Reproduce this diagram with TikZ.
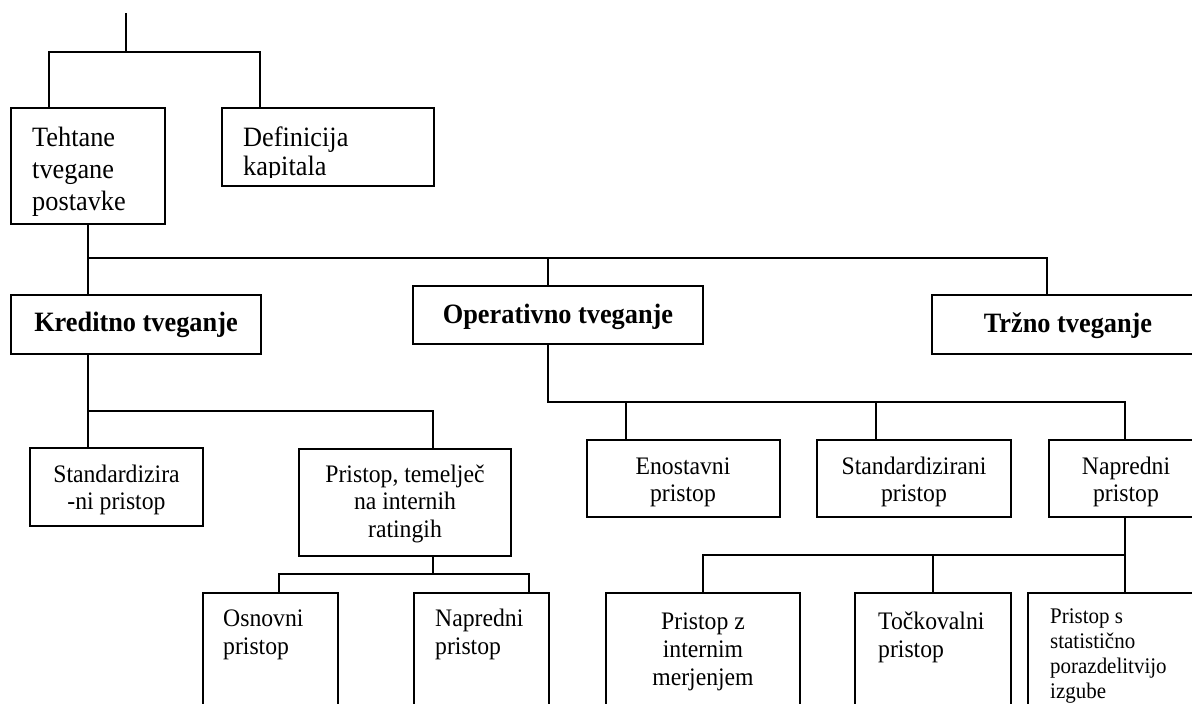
\documentclass[tikz,border=0pt]{standalone}
\usepackage{fontspec}
\setmainfont{Liberation Serif}[FakeStretch=0.94]
\begin{document}
\begin{tikzpicture}[x=1pt,y=-1pt,
  box/.style={draw, line width=2.5pt, inner sep=0pt, outer sep=0pt, anchor=north west},
  conn/.style={line width=1.8pt},
  ftop/.style={font=\fontsize{28}{32}\selectfont},
  fdef/.style={font=\fontsize{28}{29}\selectfont},
  fbold/.style={font=\fontsize{28}{30}\selectfont\bfseries},
  fmid/.style={font=\fontsize{25.2}{27.5}\selectfont},
  flow/.style={font=\fontsize{25.2}{28}\selectfont},
  fsmall/.style={font=\fontsize{22.3}{25}\selectfont},
  txt/.style={inner sep=0pt}]
\useasboundingbox (0,0) rectangle (1192,704);
\clip (0,0) rectangle (1192,704);
% boxes
\node[box, minimum width=154pt, minimum height=116pt] (tehtane) at (11,108) {};
\node[box, minimum width=212pt, minimum height=78pt] (definicija) at (222,108) {};
\node[box, minimum width=250pt, minimum height=59pt] (kreditno) at (11,295) {};
\node[box, minimum width=290pt, minimum height=58pt] (operativno) at (413,286) {};
\node[box, minimum width=272pt, minimum height=59pt] (trzno) at (932,295) {};
\node[box, minimum width=173pt, minimum height=78pt] (stdA) at (30,448) {};
\node[box, minimum width=212pt, minimum height=107pt] (irb) at (299,449) {};
\node[box, minimum width=135pt, minimum height=140pt] (osnovni) at (203,593) {};
\node[box, minimum width=135pt, minimum height=140pt] (napA) at (414,593) {};
\node[box, minimum width=193pt, minimum height=77pt] (enost) at (587,440) {};
\node[box, minimum width=194pt, minimum height=77pt] (stdB) at (817,440) {};
\node[box, minimum width=154pt, minimum height=77pt] (napB) at (1049,440) {};
\node[box, minimum width=194pt, minimum height=140pt] (pz) at (606,593) {};
\node[box, minimum width=156pt, minimum height=140pt] (tock) at (855,593) {};
\node[box, minimum width=180pt, minimum height=140pt] (ps) at (1028,593) {};
% texts (anchor base = baseline of the last line)
\node[txt, ftop, anchor=base west, align=left] (tehtaneT) at (32,210) {Tehtane\\tvegane\\postavke};
\begin{scope}
\clip (222,108) rectangle (434,177);
\node[txt, fdef, anchor=base west, align=left] (definicijaT) at (243,175) {Definicija\\kapitala};
\end{scope}
\node[txt, fbold, anchor=base] (kreditnoT) at (136,331) {Kreditno tveganje};
\node[txt, fbold, anchor=base] (operativnoT) at (558,323) {Operativno tveganje};
\node[txt, fbold, anchor=base] (trznoT) at (1068,332) {Tržno tveganje};
\node[txt, fmid, anchor=base, align=center] (stdAT) at (116.5,509.5) {Standardizira\\-ni pristop};
\node[txt, fmid, anchor=base, align=center] (irbT) at (405,537) {Pristop, temelječ\\na internih\\ratingih};
\node[txt, flow, anchor=base west, align=left] (osnovniT) at (223,654) {Osnovni\\pristop};
\node[txt, flow, anchor=base west, align=left] (napAT) at (435,654) {Napredni\\pristop};
\node[txt, fmid, anchor=base, align=center] (enostT) at (683,501.5) {Enostavni\\pristop};
\node[txt, fmid, anchor=base, align=center] (stdBT) at (914,501.5) {Standardizirani\\pristop};
\node[txt, fmid, anchor=base, align=center] (napBT) at (1126,501.5) {Napredni\\pristop};
\node[txt, flow, anchor=base, align=center] (pzT) at (703,685) {Pristop z\\internim\\merjenjem};
\node[txt, flow, anchor=base west, align=left] (tockT) at (878,657) {Točkovalni\\pristop};
\node[txt, fsmall, anchor=base west, align=left] (psT) at (1050,698) {Pristop s\\statistično\\porazdelitvijo\\izgube};
% junction coordinates
\coordinate (root) at (126,13);
\coordinate (j0) at (126,52);
\coordinate (a1) at (49,52);
\coordinate (a2) at (260,52);
\coordinate (b1) at (88,258);
\coordinate (b2) at (548,258);
\coordinate (b3) at (1047,258);
\coordinate (c1) at (88,411);
\coordinate (c2) at (433,411);
\coordinate (d0) at (433,574);
\coordinate (d1) at (279,574);
\coordinate (d2) at (529,574);
\coordinate (e0) at (548,402);
\coordinate (e1) at (626,402);
\coordinate (e2) at (876,402);
\coordinate (e3) at (1125,402);
\coordinate (f0) at (1125,555);
\coordinate (f1) at (703,555);
\coordinate (f2) at (933,555);
% connectors
\draw[conn] (root) -- (j0);
\draw[conn] (a1 |- tehtane.north) -- (a1) -- (a2) -- (a2 |- definicija.north);
\draw[conn] (b1 |- tehtane.south) -- (b1) -- (b3) -- (b3 |- trzno.north);
\draw[conn] (b1) -- (b1 |- kreditno.north);
\draw[conn] (b2) -- (b2 |- operativno.north);
\draw[conn] (c1 |- kreditno.south) -- (c1 |- stdA.north);
\draw[conn] (c1) -- (c2) -- (c2 |- irb.north);
\draw[conn] (d0 |- irb.south) -- (d0);
\draw[conn] (d1 |- osnovni.north) -- (d1) -- (d2) -- (d2 |- napA.north);
\draw[conn] (e0 |- operativno.south) -- (e0) -- (e3) -- (e3 |- napB.north);
\draw[conn] (e1) -- (e1 |- enost.north);
\draw[conn] (e2) -- (e2 |- stdB.north);
\draw[conn] (f0 |- napB.south) -- (f0 |- ps.north);
\draw[conn] (f0) -- (f1) -- (f1 |- pz.north);
\draw[conn] (f2) -- (f2 |- tock.north);
\end{tikzpicture}
\end{document}
